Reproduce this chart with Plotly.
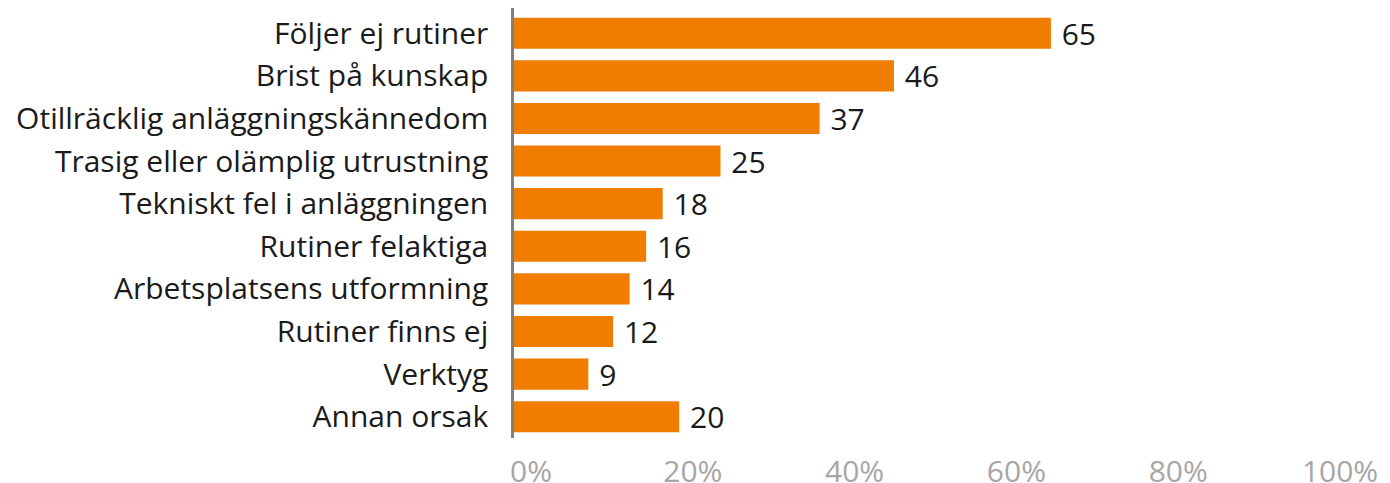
import plotly.graph_objects as go

categories = ["Följer ej rutiner", "Brist på kunskap", "Otillräcklig anläggningskännedom",
              "Trasig eller olämplig utrustning", "Tekniskt fel i anläggningen",
              "Rutiner felaktiga", "Arbetsplatsens utformning", "Rutiner finns ej",
              "Verktyg", "Annan orsak"]
values = [65, 46, 37, 25, 18, 16, 14, 12, 9, 20]
tick_vals = [0, 20, 40, 60, 80, 100]
tick_text = ["0%", "20%", "40%", "60%", "80%", "100%"]

FONT = "Open Sans"
SIZE = 30

fig = go.Figure(go.Bar(
    x=values, y=categories, orientation="h",
    marker=dict(color="#F07D00", line=dict(width=0)),
    text=[" " + str(v) for v in values], texttemplate="%{text}",
    textposition="outside", constraintext="none",
    textfont=dict(color="#1a1a1a", size=SIZE, family=FONT),
    cliponaxis=False, hoverinfo="x+y",
))
# invisible helper trace so the tick-label axis is drawn
fig.add_trace(go.Scatter(x=[None], y=[categories[0]], xaxis="x2", mode="markers",
                         showlegend=False, hoverinfo="skip"))
fig.update_layout(
    width=1390, height=483,
    margin=dict(l=506, r=58, t=0, b=53),
    plot_bgcolor="white", paper_bgcolor="white",
    bargap=0.27, showlegend=False,
    font=dict(family=FONT, size=SIZE, color="#1a1a1a"),
    xaxis=dict(range=[0, 100], showticklabels=False, showgrid=False,
               zeroline=False, showline=False, ticks=""),
    xaxis2=dict(overlaying="x", side="bottom", range=[-2.1, 100],
                tickvals=tick_vals, ticktext=tick_text, showgrid=False,
                zeroline=False, showline=False, ticks="",
                tickfont=dict(color="#a6a6a6", size=SIZE, family=FONT),
                ticklabelstandoff=13),
)
fig.update_yaxes(autorange="reversed", showgrid=False, zeroline=False,
                 showline=True, linecolor="#7f7f7f", linewidth=2.5, ticks="",
                 ticklabelstandoff=17,
                 tickfont=dict(color="#1a1a1a", size=SIZE, family=FONT))
fig.write_html("out.html")
